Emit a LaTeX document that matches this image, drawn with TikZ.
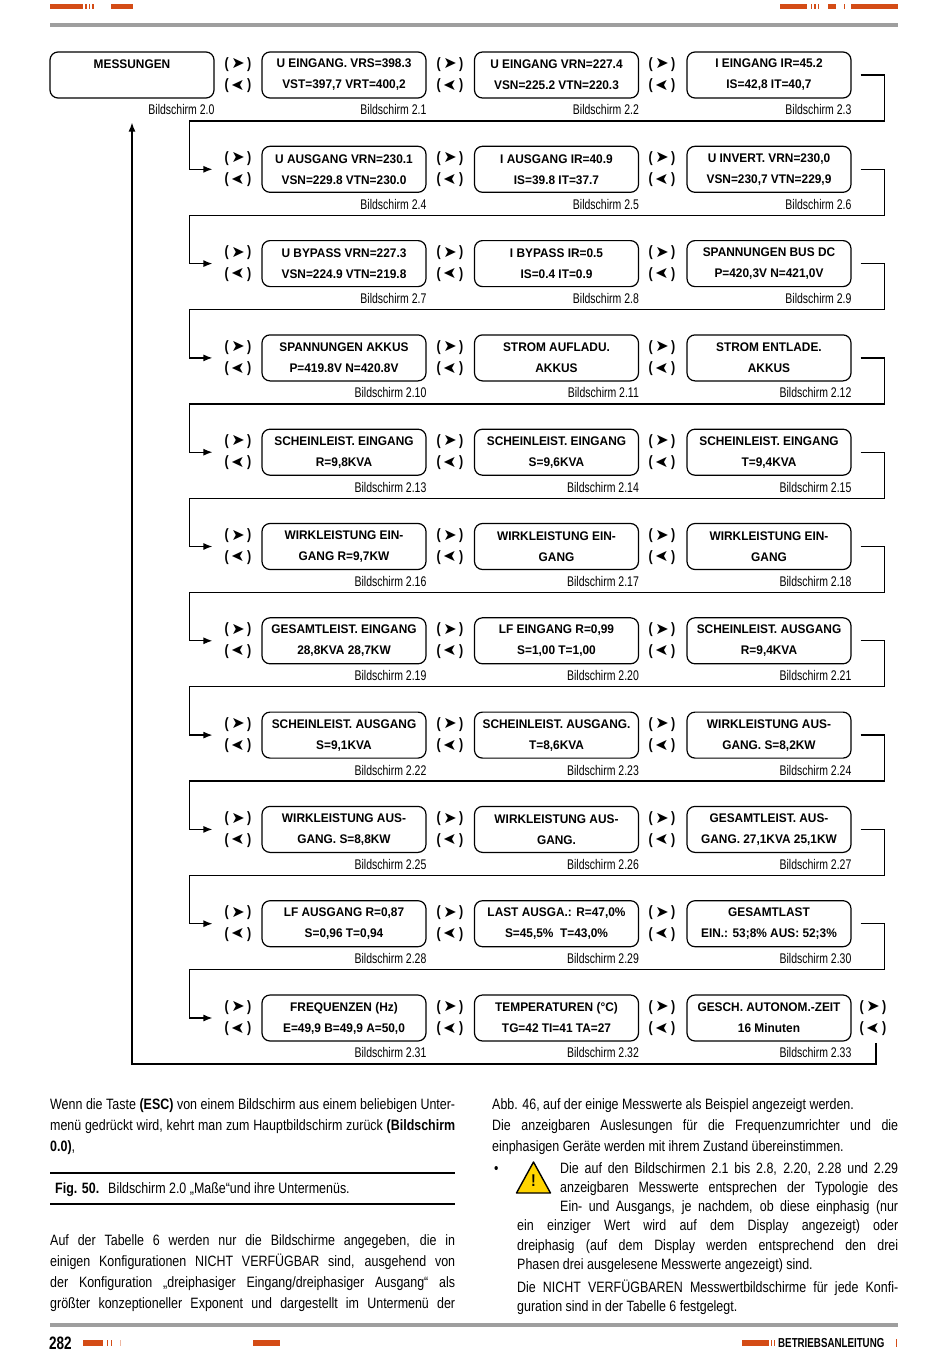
\documentclass[tikz,border=0pt]{standalone}
\usepackage{fontspec}
\usepackage{graphicx}
\setmainfont{Liberation Sans}[FakeStretch=0.83]
\newfontfamily\condfont{Liberation Sans}[FakeStretch=0.75]
\newfontfamily\boxfont{Liberation Sans}[FakeStretch=0.95]
\newfontfamily\symfont{DejaVu Sans}
\usetikzlibrary{arrows.meta,positioning,calc}
\definecolor{pageOrange}{RGB}{212,76,22}
\definecolor{ruleGray}{RGB}{158,158,158}
\definecolor{warnYellow}{RGB}{255,212,0}
\newcommand{\fwd}{(\,\raisebox{-0.5pt}{\symfont\fontsize{16}{16}\selectfont ➤}\,)}
\newcommand{\bwd}{(\,\raisebox{-0.5pt}{\reflectbox{\symfont\fontsize{16}{16}\selectfont ➤}}\,)}
\newcommand{\jline}[2]{\makebox[#1][s]{#2}}

\tikzset{
  screen/.style={draw, line width=1.2pt, rounded corners=8pt, minimum width=164pt,
    minimum height=46pt, inner sep=0pt, align=center,
    font=\boxfont\bfseries\fontsize{12.5}{21}\selectfont},
  screenlbl/.style={anchor=north east, inner sep=0pt, font=\condfont\fontsize{14}{14}\selectfont},
  keys/.style={inner sep=0pt, align=center, font=\bfseries\fontsize{15}{21.5}\selectfont},
  wire/.style={line width=1.3pt},
  bodytext/.style={anchor=base west, inner sep=0pt, align=left},
}

\begin{document}
\begin{tikzpicture}[x=1pt,y=-1pt]
\useasboundingbox (0,0) rectangle (950,1360);
\fill[white] (0,0) rectangle (950,1360);

% page head
\fill[pageOrange] (50,4) rectangle (83,9);
\foreach \x in {85.2,88.7,92.2}
  \fill[pageOrange] (\x,4) rectangle ++(1.4,5);
\fill[pageOrange] (111,4) rectangle (133,9);
\fill[pageOrange] (780,4) rectangle (807,9);
\foreach \x in {810.8,814.3,817.8,844}
  \fill[pageOrange] (\x,4) rectangle ++(1.4,5);
\fill[pageOrange] (827.5,4) rectangle (836,9);
\fill[pageOrange] (851,4) rectangle (898,9);
\fill[ruleGray] (50,22.5) rectangle (898,26.5);

% menu screens
\node[screen] (b0) at (132,75) {MESSUNGEN\\\phantom{0}};
\node[screenlbl] (l0) at ([yshift=-6pt]b0.south east) {Bildschirm 2.0};
\foreach \n/\la/\lb in {
  1/{U EINGANG. VRS=398.3}/{VST=397,7 VRT=400,2},
  2/{U EINGANG VRN=227.4}/{VSN=225.2 VTN=220.3},
  3/{I EINGANG IR=45.2}/{IS=42,8 IT=40,7},
  4/{U AUSGANG VRN=230.1}/{VSN=229.8 VTN=230.0},
  5/{I AUSGANG IR=40.9}/{IS=39.8 IT=37.7},
  6/{U INVERT. VRN=230,0}/{VSN=230,7 VTN=229,9},
  7/{U BYPASS VRN=227.3}/{VSN=224.9 VTN=219.8},
  8/{I BYPASS IR=0.5}/{IS=0.4 IT=0.9},
  9/{SPANNUNGEN BUS DC}/{P=420,3V N=421,0V},
  10/{SPANNUNGEN AKKUS}/{P=419.8V N=420.8V},
  11/{STROM AUFLADU.}/{AKKUS},
  12/{STROM ENTLADE.}/{AKKUS},
  13/{SCHEINLEIST. EINGANG}/{R=9,8KVA},
  14/{SCHEINLEIST. EINGANG}/{S=9,6KVA},
  15/{SCHEINLEIST. EINGANG}/{T=9,4KVA},
  16/{WIRKLEISTUNG EIN-}/{GANG R=9,7KW},
  17/{WIRKLEISTUNG EIN-}/{GANG},
  18/{WIRKLEISTUNG EIN-}/{GANG},
  19/{GESAMTLEIST. EINGANG}/{28,8KVA 28,7KW},
  20/{LF EINGANG R=0,99}/{S=1,00 T=1,00},
  21/{SCHEINLEIST. AUSGANG}/{R=9,4KVA},
  22/{SCHEINLEIST. AUSGANG}/{S=9,1KVA},
  23/{SCHEINLEIST. AUSGANG.}/{T=8,6KVA},
  24/{WIRKLEISTUNG AUS-}/{GANG. S=8,2KW},
  25/{WIRKLEISTUNG AUS-}/{GANG. S=8,8KW},
  26/{WIRKLEISTUNG AUS-}/{GANG.},
  27/{GESAMTLEIST. AUS-}/{GANG. 27,1KVA 25,1KW},
  28/{LF AUSGANG R=0,87}/{S=0,96 T=0,94},
  29/{LAST AUSGA.: R=47,0\%}/{S=45,5\%~~T=43,0\%},
  30/{GESAMTLAST}/{EIN.: 53;8\% AUS: 52;3\%},
  31/{FREQUENZEN (Hz)}/{E=49,9 B=49,9 A=50,0},
  32/{TEMPERATUREN (°C)}/{TG=42 TI=41 TA=27},
  33/{GESCH. AUTONOM.-ZEIT}/{16 Minuten}}
{
  \pgfmathtruncatemacro{\row}{(\n-1)/3}
  \pgfmathtruncatemacro{\col}{mod(\n-1,3)}
  \node[screen] (b\n) at ({344+212.5*\col},{75+94.3*\row}) {\la\\\lb};
  \node[screenlbl] (l\n) at ([yshift=-6pt]b\n.south east) {Bildschirm 2.\n};
}

% key hints
\foreach \row in {0,...,10}
  \foreach \col in {1,2,3}
    \node[keys] (k\row-\col) at ({238+212*(\col-1)},{75+94.3*\row}) {\fwd\\\bwd};
\node[keys] (k10-4) at (873,1018) {\fwd\\\bwd};

% row to row
\foreach \row in {0,...,9}
{
  \pgfmathtruncatemacro{\last}{3*\row+3}
  \pgfmathtruncatemacro{\nxt}{\row+1}
  \draw[wire,-{Latex[length=9pt,width=7pt]}] ([xshift=9pt]b\last.east) -- ++(24,0) -- ++(0,46)
    -| ([xshift=-35pt]k\nxt-1.west) -- ([xshift=-12pt]k\nxt-1.west);
}
% back to MESSUNGEN
\coordinate (ret) at (132,1064);
\coordinate (top) at ([yshift=-24pt]b0.south);
\draw[wire,-{Latex[length=9pt,width=7pt]}] ([xshift=3pt,yshift=-7pt]k10-4.south) |- (ret) -- (top);

% text, left column (node base = baseline of last line)
\begin{scope}[font=\fontsize{15}{21}\selectfont]
\node[bodytext] (p1) at (50,1151) {%
  \jline{405pt}{Wenn die Taste \textbf{(ESC)} von einem Bildschirm aus einem beliebigen Unter-}\\
  \jline{405pt}{menü gedrückt wird, kehrt man zum Hauptbildschirm zurück \textbf{(Bildschirm}}\\
  \textbf{0.0)},};
\draw[line width=1.5pt] (50,1173) -- (455,1173);
\node[bodytext] (cap) at (55,1193) {\textbf{Fig. 50.}\hspace{9pt}Bildschirm 2.0 „Maße“und ihre Untermenüs.};
\draw[line width=1.5pt] (50,1204) -- (455,1204);
\node[bodytext] (p2) at (50,1308) {%
  \jline{405pt}{Auf der Tabelle 6 werden nur die Bildschirme angegeben, die in}\\
  \jline{405pt}{einigen Konfigurationen NICHT VERFÜGBAR sind, ausgehend von}\\
  \jline{405pt}{der Konfiguration „dreiphasiger Eingang/dreiphasiger Ausgang“ als}\\
  \jline{405pt}{größter konzeptioneller Exponent und dargestellt im Untermenü der}};

% text, right column
\node[bodytext] (p3) at (492,1151) {%
  Abb. 46, auf der einige Messwerte als Beispiel angezeigt werden.\\
  \jline{406pt}{Die anzeigbaren Auslesungen für die Frequenzumrichter und die}\\
  einphasigen Geräte werden mit ihrem Zustand übereinstimmen.};
\node[bodytext] (dot) at (494,1173) {•};
\node[bodytext, font=\fontsize{15}{19.3}\selectfont] (p4) at (517,1269.5) {%
  \hspace*{43pt}\jline{338pt}{Die auf den Bildschirmen 2.1 bis 2.8, 2.20, 2.28 und 2.29}\\
  \hspace*{43pt}\jline{338pt}{anzeigbaren Messwerte entsprechen der Typologie des}\\
  \hspace*{43pt}\jline{338pt}{Ein- und Ausgangs, je nachdem, ob diese einphasig (nur}\\
  \jline{381pt}{ein einziger Wert wird auf dem Display angezeigt) oder}\\
  \jline{381pt}{dreiphasig (auf dem Display werden entsprechend den drei}\\
  Phasen drei ausgelesene Messwerte angezeigt) sind.};
\node[bodytext, font=\fontsize{15}{19.3}\selectfont] (p5) at (517,1311.3) {%
  \jline{381pt}{Die NICHT VERFÜGBAREN Messwertbildschirme für jede Konfi-}\\
  guration sind in der Tabelle 6 festgelegt.};
\end{scope}

% warning sign
\filldraw[fill=warnYellow, draw=black, line width=1.4pt, line join=round] (533.5,1162) -- (550.5,1193) -- (516.5,1193) -- cycle;
\node[text=black, font=\bfseries\fontsize{17}{17}\selectfont, inner sep=0pt] (warn) at (533.5,1181) {!};

% page foot
\fill[ruleGray] (50,1323) rectangle (898,1327);
\node[anchor=base west, inner sep=0pt, font=\condfont\bfseries\fontsize{18}{18}\selectfont] (pgno) at (49,1349) {282};
\fill[pageOrange] (83,1340) rectangle (103,1346);
\foreach \x in {106.5,111}
  \fill[pageOrange] (\x,1340) rectangle ++(1.4,6);
\fill[pageOrange!40] (120,1340) rectangle ++(1.2,6);
\fill[pageOrange] (252.5,1340) rectangle (280,1346);
\fill[pageOrange] (742,1340) rectangle (769,1346);
\foreach \x in {770.6,774}
  \fill[pageOrange] (\x,1340) rectangle ++(1.4,6);
\node[anchor=base west, inner sep=0pt, font=\condfont\bfseries\fontsize{13}{13}\selectfont] (foot) at (778,1347.5) {BETRIEBSANLEITUNG};
\fill[pageOrange] (896,1339) rectangle ++(1.4,8);
\end{tikzpicture}
\end{document}
